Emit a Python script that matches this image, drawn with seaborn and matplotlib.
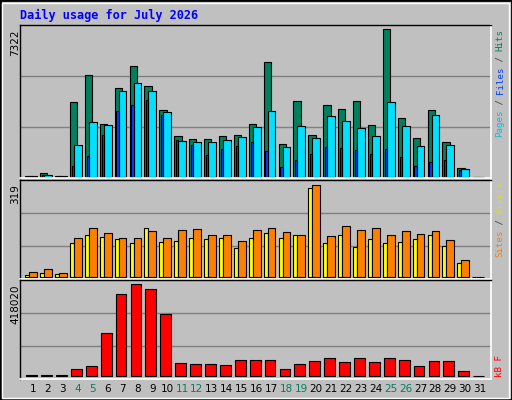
import numpy as np
import matplotlib
matplotlib.use("Agg")
import matplotlib.pyplot as plt
import seaborn as sns
from matplotlib.patches import Rectangle

sns.set_style("white")

days = list(range(1, 32))
hits = [50, 170, 50, 3694, 5036, 2601, 4390, 5483, 4489, 3297, 2004, 1855, 1855, 2004, 2054, 2601,
        5682, 1607, 3744, 2054, 3545, 3346, 3744, 2551, 7322, 2899, 1905, 3297, 1706, 414, 0]
files = [20, 80, 20, 1557, 2700, 2551, 4241, 4638, 4241, 3197, 1756, 1706, 1706, 1806, 1955, 2452,
         3247, 1458, 2501, 1905, 2998, 2750, 2402, 2004, 3694, 2501, 1507, 3048, 1557, 364, 0]
pages = [10, 60, 10, 514, 1010, 2054, 3247, 3545, 3794, 3048, 1806, 1557, 1060, 1358, 1507, 1706,
         1259, 464, 812, 1110, 1458, 1408, 1309, 1110, 1358, 961, 514, 712, 812, 315, 0]
sites = [5, 12, 8, 116, 143, 136, 129, 116, 168, 119, 123, 133, 129, 133, 98, 133,
         150, 133, 143, 306, 116, 143, 102, 129, 116, 119, 129, 143, 105, 46, 0]
visits = [15, 25, 12, 133, 168, 150, 133, 133, 157, 133, 161, 164, 143, 143, 123, 161,
          168, 154, 143, 319, 140, 175, 161, 168, 143, 157, 147, 157, 126, 57, 0]
kbytes = [1500, 1500, 1500, 29000, 42700, 193800, 372300, 418020, 395100, 280700, 56400, 51900, 51900, 47300,
          70200, 70200, 70200, 29000, 51900, 65600, 79300, 61000, 79300, 61000, 79300, 70200, 42700,
          65600, 65600, 19800, 0]
weekend = [4, 5, 11, 12, 18, 19, 25, 26]

BG = "#C0C0C0"
W, H = 512, 400
fig = plt.figure(figsize=(5.12, 4.0), dpi=100, facecolor=BG)

def pax(x0, y0, x1, y1):
    return fig.add_axes([x0 / W, 1 - y1 / H, (x1 - x0) / W, (y1 - y0) / H])

# outer bevel frame
fig.add_artist(Rectangle((0, 0), 1, 1, transform=fig.transFigure, fill=False, ec="black", lw=2))
fig.add_artist(Rectangle((2 / W, 2 / H), 1 - 5 / W, 1 - 5 / H, transform=fig.transFigure, fill=False, ec="white", lw=1))

x = np.array(days, dtype=float)
XL = (0.128, 31.74)

def style(ax, ylim, grids):
    ax.set_facecolor(BG)
    ax.set_xlim(*XL)
    ax.set_ylim(*ylim)
    for g in grids:
        ax.axhline(g, color="#808080", lw=1, zorder=0)
    ax.set_xticks([]); ax.set_yticks([])
    for s in ["left", "top"]:
        ax.spines[s].set_color("black"); ax.spines[s].set_linewidth(1)
    for s in ["right", "bottom"]:
        ax.spines[s].set_color("white"); ax.spines[s].set_linewidth(1.2)

def bars(ax, vals, lo, hi, color):
    ax.bar(x + lo, vals, width=hi - lo, align="edge", color=color, edgecolor="black", linewidth=0.8, zorder=2)

ax1 = pax(20, 25, 491, 178)
style(ax1, (-65, 7536), [2470, 5005])
bars(ax1, hits, -0.52, -0.03, "#00805C")
bars(ax1, files, -0.25, 0.27, "#00E0FF")
bars(ax1, pages, -0.40, -0.25, "#0040FF")

ax2 = pax(20, 180, 491, 279)
style(ax2, (-8, 335), [105, 220])
bars(ax2, sites, -0.52, -0.25, "#FFFF00")
bars(ax2, visits, -0.25, 0.27, "#FF8000")

ax3 = pax(20, 280, 491, 379)
style(ax3, (-15100, 437700), [135800, 285400])
bars(ax3, kbytes, -0.45, 0.27, "#FF0000")

mono = "DejaVu Sans Mono"
fig.text(20 / W, 1 - 15 / H, "Daily usage for July 2026", color="#0000FF", fontsize=8.6,
         family=mono, weight="bold", va="center", ha="left")

for lab, ytop in [("7322", 29), ("319", 184), ("418020", 284)]:
    fig.text(15 / W, 1 - ytop / H, lab, rotation=90, fontsize=7.5, ha="center", va="top", color="black")

def right_label(parts, ybottom):
    y = ybottom
    step = 5.4
    for txt, col in parts:
        fig.text(500 / W, 1 - y / H, txt, rotation=90, family=mono, fontsize=6.6,
                 color=col, ha="center", va="bottom")
        y -= step * len(txt)

right_label([("Pages", "#00C0E0"), (" / ", "#404040"), ("Files", "#0040FF"),
             (" / ", "#404040"), ("Hits", "#00805C")], 137)
right_label([("Sites", "#FF8000"), (" / ", "#404040"), ("Visits", "#E0E000")], 257)
right_label([("kB F", "#FF0000")], 377)

for d in days:
    xp = 33 + (d - 1) * 14.9
    fig.text(xp / W, 1 - 389 / H, str(d), fontsize=7.5, ha="center", va="center",
             color="#008060" if d in weekend else "black")

fig.savefig("out.png", dpi=100, facecolor=BG)
